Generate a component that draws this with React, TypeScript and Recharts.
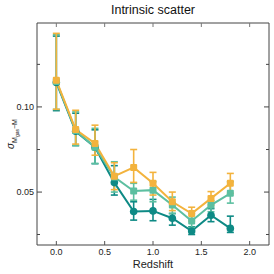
import React from 'react';
import { ComposedChart, Line, XAxis, YAxis, ErrorBar } from 'recharts';

const redshift = [0.0, 0.2, 0.4, 0.6, 0.8, 1.0, 1.2, 1.4, 1.6, 1.8];

const tealVal = [0.122, 0.082, 0.072, 0.054, 0.0427, 0.0429, 0.0404, 0.0364, 0.0414, 0.0372];
const tealLo = [0.097, 0.073, 0.063, 0.0488, 0.0398, 0.0396, 0.0382, 0.0354, 0.0393, 0.036];
const tealHi = [0.178, 0.095, 0.083, 0.062, 0.0462, 0.0471, 0.042, 0.0377, 0.0437, 0.0411];

const greenVal = [0.123, 0.0825, 0.072, 0.0565, 0.0504, 0.0508, 0.045, 0.0395, 0.045, 0.0495];
const greenLo = [0.098, 0.073, 0.0631, 0.05, 0.0468, 0.0462, 0.042, 0.0375, 0.0426, 0.0457];
const greenHi = [0.18, 0.096, 0.084, 0.064, 0.0537, 0.0544, 0.048, 0.042, 0.0466, 0.0544];

const orangeVal = [0.1242, 0.0832, 0.0743, 0.0569, 0.0611, 0.0537, 0.0462, 0.042, 0.0475, 0.0537];
const orangeLo = [0.0981, 0.0739, 0.0675, 0.051, 0.0541, 0.0488, 0.043, 0.0395, 0.045, 0.0495];
const orangeHi = [0.182, 0.0973, 0.0862, 0.0635, 0.0707, 0.0587, 0.05, 0.0442, 0.0502, 0.0582];

const xTicks = [0.0, 0.5, 1.0, 1.5, 2.0];
const yTicks = [0.0354, 0.05, 0.0707, 0.1, 0.1414];
const yLabeled = [0.05, 0.1];

const TEAL = '#0e8a85';
const GREEN = '#5cbfa0';
const ORANGE = '#f3b33d';

const data = redshift.map((z, i) => ({
  z,
  teal: tealVal[i],
  tealErr: [tealVal[i] - tealLo[i], tealHi[i] - tealVal[i]],
  green: greenVal[i],
  greenErr: [greenVal[i] - greenLo[i], greenHi[i] - greenVal[i]],
  orange: orangeVal[i],
  orangeErr: [orangeVal[i] - orangeLo[i], orangeHi[i] - orangeVal[i]],
}));

const FONT = 'Liberation Sans, Arial, sans-serif';

const BottomTick = (props: any) => {
  const { x, y, payload } = props;
  return (
    <g>
      <line x1={x} x2={x} y1={y} y2={y - 4} stroke="#555" strokeWidth={1} />
      <text x={x} y={y + 9.5} textAnchor="middle" fontSize={9} fontFamily={FONT} fill="#222">
        {payload.value.toFixed(1)}
      </text>
    </g>
  );
};

const TopTick = (props: any) => {
  const { x, y } = props;
  return <line x1={x} x2={x} y1={y} y2={y + 4} stroke="#777" strokeWidth={1} />;
};

const isMajor = (v: number) => yLabeled.some((t) => Math.abs(t - v) < 1e-6);

const LeftTick = (props: any) => {
  const { x, y, payload } = props;
  const major = isMajor(payload.value);
  return (
    <g>
      <line x1={x} x2={x + (major ? 5 : 3)} y1={y} y2={y} stroke="#444" strokeWidth={1} />
      {major && (
        <text x={x - 3} y={y + 3} textAnchor="end" fontSize={9} fontFamily={FONT} fill="#222">
          {payload.value.toFixed(2)}
        </text>
      )}
    </g>
  );
};

const RightTick = (props: any) => {
  const { x, y, payload } = props;
  const major = isMajor(payload.value);
  return <line x1={x} x2={x - (major ? 5 : 3)} y1={y} y2={y} stroke="#444" strokeWidth={1} />;
};

const SquareDot = (color: string) => (props: any) => {
  const { cx, cy, index } = props;
  if (cx == null || cy == null) return <g key={index} />;
  return <rect key={index} x={cx - 3.5} y={cy - 3.5} width={7} height={7} fill={color} rx={1} />;
};

const CircleDot = (color: string) => (props: any) => {
  const { cx, cy, index } = props;
  if (cx == null || cy == null) return <g key={index} />;
  return <circle key={index} cx={cx} cy={cy} r={3.8} fill={color} />;
};

export default function App() {
  return (
    <div style={{ position: 'absolute', left: 0, top: 0, width: 274, height: 274, background: '#fff' }}>
      <ComposedChart
        width={274}
        height={274}
        data={data}
        margin={{ top: 22, right: 4, left: 36, bottom: 28 }}
      >
        <XAxis
          xAxisId="b"
          dataKey="z"
          type="number"
          domain={[-0.2, 2.2]}
          ticks={xTicks}
          allowDataOverflow
          height={1}
          tickSize={0}
          tickMargin={0}
          tick={<BottomTick />}
          axisLine={{ stroke: '#444' }}
          tickLine={false}
        />
        <XAxis
          xAxisId="t"
          orientation="top"
          dataKey="z"
          type="number"
          domain={[-0.2, 2.2]}
          ticks={xTicks}
          allowDataOverflow
          height={1}
          tickSize={0}
          tickMargin={0}
          tick={<TopTick />}
          axisLine={{ stroke: '#444' }}
          tickLine={false}
        />
        <YAxis
          yAxisId="l"
          type="number"
          scale="log"
          domain={[0.0325, 0.198]}
          ticks={yTicks}
          allowDataOverflow
          width={1}
          tickSize={0}
          tickMargin={0}
          tick={<LeftTick />}
          axisLine={{ stroke: '#444' }}
          tickLine={false}
        />
        <YAxis
          yAxisId="r"
          orientation="right"
          type="number"
          scale="log"
          domain={[0.0325, 0.198]}
          ticks={yTicks}
          allowDataOverflow
          width={1}
          tickSize={0}
          tickMargin={0}
          tick={<RightTick />}
          axisLine={{ stroke: '#444' }}
          tickLine={false}
        />
        <Line
          xAxisId="b"
          yAxisId="l"
          dataKey="teal"
          stroke={TEAL}
          strokeWidth={2}
          dot={CircleDot(TEAL)}
          isAnimationActive={false}
        >
          <ErrorBar dataKey="tealErr" direction="y" width={3.5} stroke={TEAL} strokeWidth={1.6} />
        </Line>
        <Line
          xAxisId="b"
          yAxisId="l"
          dataKey="green"
          stroke={GREEN}
          strokeWidth={2}
          dot={SquareDot(GREEN)}
          isAnimationActive={false}
        >
          <ErrorBar dataKey="greenErr" direction="y" width={3.5} stroke={GREEN} strokeWidth={1.6} />
        </Line>
        <Line
          xAxisId="b"
          yAxisId="l"
          dataKey="orange"
          stroke={ORANGE}
          strokeWidth={2}
          dot={SquareDot(ORANGE)}
          isAnimationActive={false}
        >
          <ErrorBar dataKey="orangeErr" direction="y" width={3.5} stroke={ORANGE} strokeWidth={1.6} />
        </Line>
        <text x={153} y={14} textAnchor="middle" fontSize={12.5} fontFamily={FONT} fill="#111">
          Intrinsic scatter
        </text>
        <text x={153} y={268} textAnchor="middle" fontSize={11} fontFamily={FONT} fill="#222">
          Redshift
        </text>
        <text
          transform="translate(14,134) rotate(-90)"
          textAnchor="middle"
          fontSize={10}
          fontFamily={FONT}
          fill="#222"
        >
          <tspan fontStyle="italic">σ</tspan>
          <tspan fontSize={7} dy={3}>M</tspan>
          <tspan fontSize={5} dy={1.5}>gas</tspan>
          <tspan fontSize={7} dy={-1.5}>−M</tspan>
        </text>
      </ComposedChart>
    </div>
  );
}
